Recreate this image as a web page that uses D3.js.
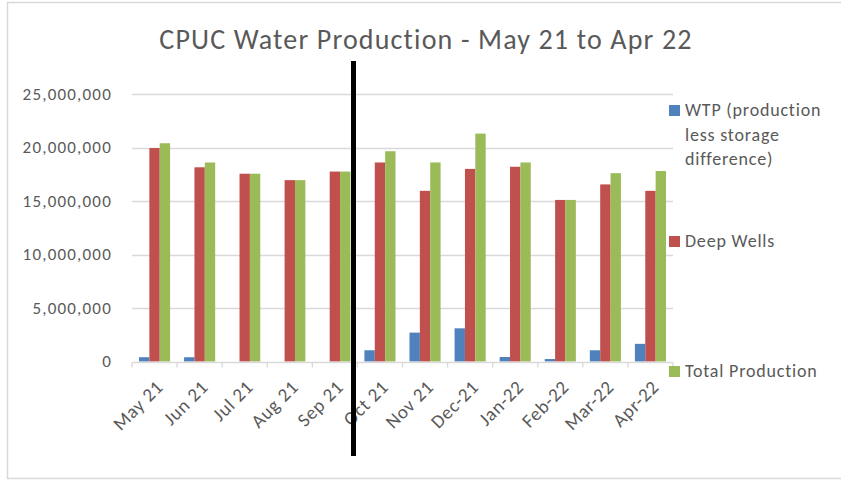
<!DOCTYPE html>
<html>
<head>
<meta charset="utf-8">
<script src="https://cdn.jsdelivr.net/npm/d3@7"></script>
<style>
  body { margin: 0; background: #fff; }
  text { font-family: Carlito, Lato, "Open Sans", sans-serif; fill: #595959; }
</style>
</head>
<body>
<div id="chart"></div>
<script>
// Chart size and plot area
const width = 841;
const height = 481;
const margin = {left: 132, right: 168, top: 94, bottom: 120};

// Data
const months = ["May 21", "Jun 21", "Jul 21", "Aug 21", "Sep 21", "Oct 21",
                "Nov 21", "Dec-21", "Jan-22", "Feb-22", "Mar-22", "Apr-22"];
const wtp = [400000, 400000, 0, 0, 0, 1050000, 2700000, 3100000, 420000, 230000, 1050000, 1650000];
const deepWells = [19950000, 18150000, 17550000, 16950000, 17750000, 18600000,
                   15950000, 18000000, 18200000, 15100000, 16550000, 15950000];
const totalProduction = [20400000, 18600000, 17550000, 16950000, 17750000, 19650000,
                         18600000, 21300000, 18600000, 15100000, 17600000, 17800000];
const seriesNames = ["WTP (production less storage difference)", "Deep Wells", "Total Production"];
const yTicks = [0, 5000000, 10000000, 15000000, 20000000, 25000000];

const colors = ["#4f81bd", "#c0504d", "#9bbb59"];
const seriesValues = [wtp, deepWells, totalProduction];

const svg = d3.select("#chart")
  .append("svg")
  .attr("width", width)
  .attr("height", height);

// outer frame (left, top, bottom only)
svg.append("path")
  .attr("d", `M841,2.5 H7.5 V478.5 H841`)
  .attr("fill", "none")
  .attr("stroke", "#d9d9d9")
  .attr("stroke-width", 1.5);

// Scales
const xScale = d3.scaleBand()
  .domain(months)
  .range([margin.left, width - margin.right])
  .paddingInner(0.31)
  .paddingOuter(0.155);

const xInner = d3.scaleBand()
  .domain(d3.range(3))
  .range([0, xScale.bandwidth()]);

const yScale = d3.scaleLinear()
  .domain([0, 25000000])
  .range([height - margin.bottom + 0.5, margin.top]);

// Gridlines
svg.append("g")
  .selectAll("line")
  .data(yTicks.slice(1))
  .enter()
  .append("line")
    .attr("x1", margin.left)
    .attr("x2", width - margin.right)
    .attr("y1", d => Math.round(yScale(d)) + 0.5)
    .attr("y2", d => Math.round(yScale(d)) + 0.5)
    .attr("stroke", "#d9d9d9")
    .attr("stroke-width", 1.3);

// Y axis labels
svg.append("g")
  .selectAll("text")
  .data(yTicks)
  .enter()
  .append("text")
    .attr("x", 112)
    .attr("y", d => yScale(d))
    .attr("dy", "0.35em")
    .attr("text-anchor", "end")
    .attr("font-size", "17px")
    .attr("letter-spacing", "1.2px")
    .text(d => d3.format(",")(d));

// Bars
const groups = svg.append("g")
  .selectAll("g")
  .data(months)
  .enter()
  .append("g")
    .attr("transform", d => `translate(${xScale(d)},0)`);

groups.selectAll("rect")
  .data((d, i) => seriesValues.map((s, k) => ({k: k, v: s[i]})))
  .enter()
  .append("rect")
    .attr("x", d => xInner(d.k))
    .attr("width", xInner.bandwidth())
    .attr("y", d => yScale(d.v))
    .attr("height", d => yScale(0) - yScale(d.v))
    .attr("fill", d => colors[d.k]);

// X axis line and ticks
const x0 = margin.left, x1 = width - margin.right;
const axisY = Math.round(yScale(0)) + 0.5;
svg.append("line")
  .attr("x1", x0).attr("x2", x1)
  .attr("y1", axisY).attr("y2", axisY)
  .attr("stroke", "#d9d9d9")
  .attr("stroke-width", 1.3);

const step = xScale.step();
svg.append("g")
  .selectAll("line")
  .data(d3.range(months.length + 1))
  .enter()
  .append("line")
    .attr("x1", i => x0 + i * step)
    .attr("x2", i => x0 + i * step)
    .attr("y1", axisY)
    .attr("y2", axisY + 5)
    .attr("stroke", "#d9d9d9")
    .attr("stroke-width", 1.3);

// X labels, rotated
svg.append("g")
  .selectAll("text")
  .data(months)
  .enter()
  .append("text")
    .attr("transform", d => `translate(${xScale(d) + xScale.bandwidth() / 2 + 5},${axisY + 21}) rotate(-45)`)
    .attr("text-anchor", "end")
    .attr("dy", "0.35em")
    .attr("font-size", "19px")
    .attr("letter-spacing", "0.7px")
    .text(d => d);

// Title
svg.append("text")
  .attr("x", 426)
  .attr("y", 49)
  .attr("text-anchor", "middle")
  .attr("font-size", "28px")
  .attr("letter-spacing", "1.15px")
  .text("CPUC Water Production - May 21 to Apr 22");

// Legend
const legendItems = [
  {lines: ["WTP (production", "less storage", "difference)"], y: 116},
  {lines: ["Deep Wells"], y: 247},
  {lines: ["Total Production"], y: 377}
];

const legend = svg.append("g")
  .selectAll("g")
  .data(legendItems)
  .enter()
  .append("g");

legend.append("rect")
  .attr("x", 669)
  .attr("y", d => d.y - 11)
  .attr("width", 11)
  .attr("height", 11)
  .attr("fill", (d, i) => colors[i]);

legend.append("text")
  .attr("x", 685)
  .attr("y", d => d.y)
  .attr("font-size", "18px")
  .attr("letter-spacing", "0.8px")
  .selectAll("tspan")
  .data(d => d.lines)
  .enter()
  .append("tspan")
    .attr("x", 685)
    .attr("dy", (d, i) => i === 0 ? 0 : 24.5)
    .text(d => d);

// Black divider line drawn over the chart
svg.append("line")
  .attr("x1", 353.5).attr("x2", 353.5)
  .attr("y1", 61).attr("y2", 456)
  .attr("stroke", "#000")
  .attr("stroke-width", 5);
</script>
</body>
</html>
